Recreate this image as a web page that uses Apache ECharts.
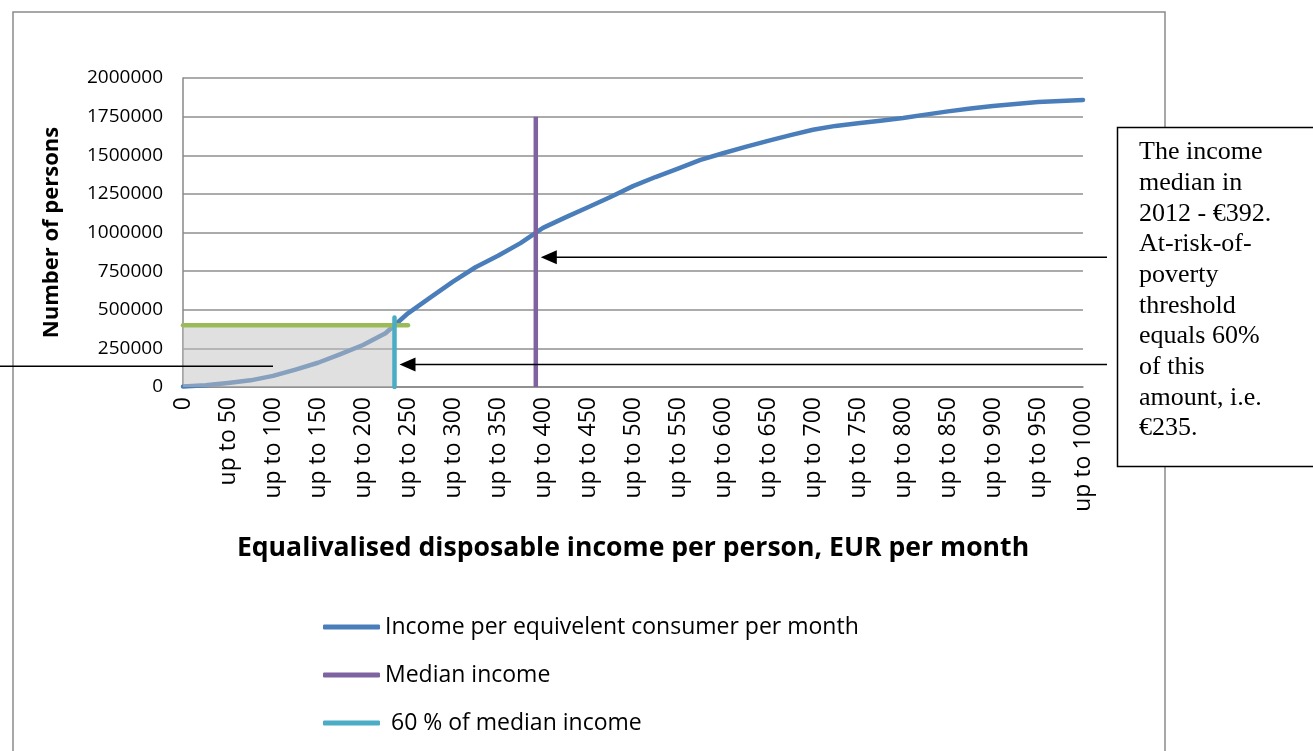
<!DOCTYPE html>
<html>
<head>
<meta charset="utf-8">
<script src="https://cdn.jsdelivr.net/npm/echarts@6/dist/echarts.min.js"></script>
<style>
  html, body { margin: 0; padding: 0; background: #fff; }
  #app { width: 1313px; height: 751px; }
</style>
</head>
<body>
<div id="app"></div>
<script>
// income bands (EUR per month), every 25, labels shown every 50
var incomeSteps = [0, 25, 50, 75, 100, 125, 150, 175, 200, 225, 250, 275, 300, 325, 350, 375, 400,
    425, 450, 475, 500, 525, 550, 575, 600, 625, 650, 675, 700, 725, 750, 775, 800,
    825, 850, 875, 900, 925, 950, 975, 1000];
// cumulative number of persons
var persons = [3000, 11000, 26000, 43000, 72000, 113000, 157000, 213000, 272000, 348000, 477000,
    580000, 682000, 775000, 849000, 931000, 1030000, 1098000, 1163000, 1230000, 1300000,
    1359000, 1413000, 1470000, 1513000, 1554000, 1593000, 1630000, 1665000, 1690000, 1707000,
    1724000, 1741000, 1763000, 1784000, 1802000, 1819000, 1832000, 1845000, 1851000, 1858000];

var medianIncome = 392;
var medianLineTop = 1750000;
var thresholdIncome = 235;
var thresholdLineTop = 450000;
var personsBelow = 400000;
var personsBelowLineEnd = 250;

var yTicks = [0, 250000, 500000, 750000, 1000000, 1250000, 1500000, 1750000, 2000000];

var seriesNames = ['Income per equivelent consumer per month', 'Median income', ' 60 % of median income'];
var noteLines = ['The income', 'median in', '2012 - \u20ac392.', 'At-risk-of-', 'poverty',
    'threshold', 'equals 60%', 'of this', 'amount, i.e.', '\u20ac235.'];

var FONT = '"Open Sans", "Noto Sans", sans-serif';
var BLUE = '#4a7ebb', PURPLE = '#7f63a1', CYAN = '#4aacc5', GREEN = '#9bbb59';

var curve = incomeSteps.map(function (x, i) { return [x, persons[i]]; });

var chart = echarts.init(document.getElementById('app'));
var option = {
    animation: false,
    backgroundColor: '#fff',
    grid: { left: 183, right: 230, top: 78, bottom: 364 },
    xAxis: {
        type: 'value',
        min: 0, max: 1000, interval: 50,
        name: 'Equalivalised disposable income per person, EUR per month',
        nameLocation: 'middle',
        nameGap: 148,
        nameTextStyle: { fontFamily: FONT, fontWeight: 'bold', fontSize: 26.6, color: '#000' },
        axisLine: { show: true, lineStyle: { color: '#888', width: 1.5 } },
        axisTick: { show: false },
        splitLine: { show: false },
        axisLabel: {
            rotate: 90, margin: 10, fontFamily: FONT, fontSize: 23, color: '#000',
            formatter: function (v) { return v === 0 ? '0' : 'up to ' + v; }
        }
    },
    yAxis: {
        type: 'value',
        min: yTicks[0], max: yTicks[yTicks.length - 1], interval: yTicks[1] - yTicks[0],
        name: 'Number of persons',
        nameLocation: 'middle',
        nameRotate: 90,
        nameGap: 120,
        nameTextStyle: { fontFamily: FONT, fontWeight: 'bold', fontSize: 22, color: '#000' },
        axisLine: { show: true, lineStyle: { color: '#888', width: 1.5 } },
        axisTick: { show: false },
        splitLine: { show: true, lineStyle: { color: '#8f8f8f', width: 1.5 } },
        axisLabel: {
            margin: 20, fontFamily: FONT, fontSize: 19, color: '#000',
            formatter: function (v) { return String(v); }
        }
    },
    legend: {
        orient: 'vertical', left: 318, top: 608, itemGap: 20,
        itemWidth: 57, itemHeight: 5, icon: 'roundRect',
        data: seriesNames,
        textStyle: { fontFamily: FONT, fontSize: 23, color: '#000', lineHeight: 28 }
    },
    series: [
        {
            name: seriesNames[0], type: 'line', data: curve, symbol: 'none', z: 2,
            itemStyle: { color: BLUE },
            lineStyle: { color: BLUE, width: 4.5, cap: 'round', join: 'round' }
        },
        {
            name: 'below threshold', type: 'line', symbol: 'none', z: 3,
            data: [[0, personsBelow], [thresholdIncome, personsBelow]],
            lineStyle: { width: 0, opacity: 0 },
            areaStyle: { color: 'rgb(193,193,193)', opacity: 0.5 }
        },
        {
            name: 'persons below', type: 'line', symbol: 'none', z: 4,
            data: [[0, personsBelow], [personsBelowLineEnd, personsBelow]],
            lineStyle: { color: GREEN, width: 4.5, cap: 'round' }
        },
        {
            name: seriesNames[1], type: 'line', symbol: 'none', z: 5,
            data: [[medianIncome, 0], [medianIncome, medianLineTop]],
            itemStyle: { color: PURPLE },
            lineStyle: { color: PURPLE, width: 4.5 }
        },
        {
            name: seriesNames[2], type: 'line', symbol: 'none', z: 5,
            data: [[thresholdIncome, 0], [thresholdIncome, thresholdLineTop]],
            itemStyle: { color: CYAN },
            lineStyle: { color: CYAN, width: 4.5, cap: 'round' }
        }
    ]
};
chart.setOption(option);

// annotations: frame, note box and arrows pointing at the median / threshold lines
function px(x, y) { return chart.convertToPixel({ gridIndex: 0 }, [x, y]); }
function arrow(x1, x2, y) {
    return [
        { type: 'line', shape: { x1: x1, y1: y, x2: x2 + 14, y2: y }, style: { stroke: '#000', lineWidth: 1.5 }, z: 100 },
        { type: 'polygon', shape: { points: [[x2, y], [x2 + 16, y - 7], [x2 + 16, y + 7]] }, style: { fill: '#000' }, z: 100 }
    ];
}
var medTip = px(medianIncome, 840000);
var thrTip = px(thresholdIncome, 145000);
var leftEnd = px(100, 135000);

var graphics = [
    { type: 'rect', shape: { x: 13, y: 12, width: 1152, height: 800 }, style: { fill: null, stroke: '#8a8a8a', lineWidth: 1.5 }, z: -1 },
    { type: 'rect', shape: { x: 1117.5, y: 127.5, width: 230, height: 339 }, style: { fill: '#fff', stroke: '#000', lineWidth: 1.5 }, z: 100 },
    { type: 'text', x: 1139, y: 137, style: { text: noteLines.join('\n'), font: '26px "Liberation Serif", serif', lineHeight: 30.7, fill: '#000' }, z: 101 },
    { type: 'line', shape: { x1: 0, y1: leftEnd[1], x2: leftEnd[0], y2: leftEnd[1] }, style: { stroke: '#000', lineWidth: 1.5 }, z: 100 }
].concat(arrow(1107, medTip[0] + 5, medTip[1])).concat(arrow(1107, thrTip[0] + 5, thrTip[1]));

chart.setOption({ graphic: graphics });
</script>
</body>
</html>
